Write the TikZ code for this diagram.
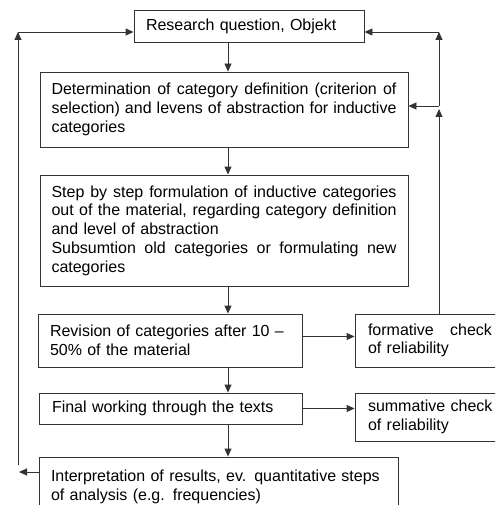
\documentclass[tikz,border=0pt]{standalone}
\usepackage{fontspec}
\setmainfont{Liberation Sans}
\usetikzlibrary{arrows.meta}
\newcommand{\fullline}[2][345pt]{\makebox[#1][s]{\spaceskip=0.278em plus 1fil\relax #2}\\}

\begin{document}
\begin{tikzpicture}[x=1pt, y=-1pt, line width=0.9pt, black!80,
    >={Triangle[length=8pt,width=7pt]},
    stage/.style={draw, rectangle, align=left, inner ysep=4pt, text=black,
        font=\fontsize{16}{18.7}\selectfont}]
    \useasboundingbox (0,0) rectangle (495,505);
    \clip (0,0) rectangle (495,505);

    \node[stage, text width=206pt, inner xsep=12pt, minimum height=32pt] (quest) at (249, 26) {Research question, Objekt};

    \node[stage, text width=345pt, inner xsep=11.5pt, minimum height=75pt] (cdef) at (224, 109.5) {%
        \fullline{Determination of category definition (criterion of}
        \fullline{selection) and levens of abstraction for inductive}
        categories};

    \node[stage, text width=345pt, inner xsep=11.5pt, minimum height=111pt] (induct) at (224, 230.5) {%
        \fullline{Step by step formulation of inductive categories}
        \fullline{out of the material, regarding category definition}
        and level of abstraction\\
        \fullline{Subsumtion old categories or formulating new}
        categories};

    \node[stage, text width=240pt, inner xsep=12pt, minimum height=53pt] (revis) at (170, 340.5) {%
        Revision of categories after 10 --\\
        50\% of the material};
    \node[stage, text width=132pt, inner xsep=13pt, minimum height=53pt] (formc) at (434, 340.5) {%
        \fullline[124pt]{formative check}
        of reliability};

    \node[stage, text width=237pt, inner xsep=13pt, minimum height=31pt] (final) at (170.5, 408.5) {Final working through the texts};
    \node[stage, text width=132pt, inner xsep=13pt, minimum height=48pt] (summc) at (434, 417) {%
        summative check\\
        of reliability};

    \node[stage, text width=335pt, inner xsep=12pt, minimum height=60pt] (interp) at (218.5, 487) {%
        Interpretation of results, ev. quantitative steps\\
        of analysis (e.g. frequencies)};

    \coordinate (axis) at (228, 0);
    \coordinate (rjoin) at (439, 106);
    \coordinate (rtop) at (439, 32);
    \coordinate (ltop) at (18, 32);
    \coordinate (lbot) at (18, 465);
    \coordinate (larr) at (19, 472);

    \draw[->] (quest.south -| axis) -- (cdef.north -| axis);
    \draw[->] (cdef.south -| axis) -- (induct.north -| axis);
    \draw[->] (induct.south -| axis) -- (revis.north -| axis);
    \draw[->] (revis.south -| axis) -- (final.north -| axis);
    \draw[->] (final.south -| axis) -- (interp.north -| axis);

    \draw[->] ([yshift=4pt]revis.east) -- ([yshift=4pt]formc.west);
    \draw[->] (final.east) -- (final.east -| summc.west);

    % feedback on the right
    \draw[->] (formc.north -| rjoin) -- ([yshift=-3pt]rjoin);
    \draw[->] (rjoin) -- (rjoin -| cdef.east);
    \draw[->] (rjoin) -- (rtop);
    \draw[->] (rtop) -- (rtop -| quest.east);

    % feedback on the left
    \draw[->] (interp.west |- larr) -- (larr);
    \draw[->] (lbot) -- (ltop);
    \draw[->] (ltop) -- (ltop -| quest.west);
\end{tikzpicture}
\end{document}
